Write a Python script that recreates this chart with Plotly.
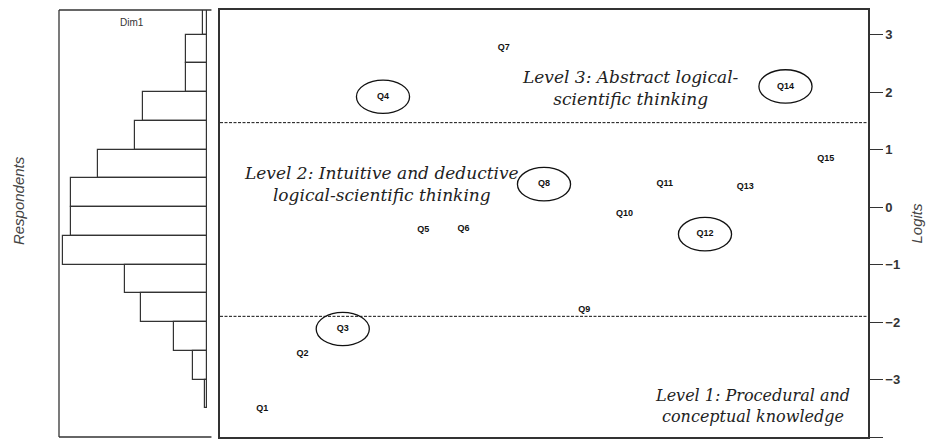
import plotly.graph_objects as go

# ---- data ----
items = ["Q1", "Q2", "Q3", "Q4", "Q5", "Q6", "Q7", "Q8", "Q9", "Q10",
         "Q11", "Q12", "Q13", "Q14", "Q15"]
item_pos = list(range(1, 16))
item_logits = [-3.50, -2.55, -2.12, 1.92, -0.40, -0.37, 2.77, 0.40, -1.79,
               -0.12, 0.41, -0.47, 0.36, 2.10, 0.85]
circled = ["Q3", "Q4", "Q8", "Q12", "Q14"]

bin_centers = [3.25, 2.75, 2.25, 1.75, 1.25, 0.75, 0.25, -0.25, -0.75,
               -1.25, -1.75, -2.25, -2.75, -3.25]
respondent_counts = [2, 10, 10, 31, 35, 53, 66, 66, 70, 40, 32, 16, 7, 1]

level_cuts = [1.47, -1.90]
level_labels = [
    ("Level 3: Abstract logical-<br>scientific thinking", 10.14, 2.08),
    ("Level 2: Intuitive and deductive<br>logical-scientific thinking", 3.97, 0.41),
    ("Level 1: Procedural and<br>conceptual knowledge", 13.17, -3.46),
]
y_ticks = [3, 2, 1, 0, -1, -2, -3, -4]

# page has an 8px body margin; figure is placed at (8, 8)
OFF = 8
PW, PH = 938, 441
W, H = PW - OFF, PH - OFF
LINE = "#333333"
LABEL_SIZES = [17, 17, 16]


def fx(px):
    return (px - OFF) / W


def fy(py):
    return 1 - (py - OFF) / H


fig = go.Figure()

# histogram of respondents
fig.add_trace(go.Bar(
    x=respondent_counts, y=bin_centers, orientation="h", width=0.5,
    marker=dict(color="white", line=dict(color=LINE, width=1.2)),
    xaxis="x", yaxis="y", showlegend=False, hoverinfo="skip"))

# items
fig.add_trace(go.Scatter(
    x=item_pos, y=item_logits, mode="text", text=items,
    textfont=dict(family="Liberation Sans, Arial", size=9, color="#111111",
                  weight="bold"),
    textposition="middle center",
    xaxis="x2", yaxis="y2", showlegend=False))

shapes = []
for name, xv, yv in zip(items, item_pos, item_logits):
    if name in circled:
        shapes.append(dict(type="circle", xref="x2", yref="y2",
                           x0=xv - 0.66, x1=xv + 0.66, y0=yv - 0.29, y1=yv + 0.29,
                           line=dict(color="#111111", width=1.3)))
for c in level_cuts:
    shapes.append(dict(type="line", xref="x2 domain", yref="y2",
                       x0=0, x1=1, y0=c, y1=c,
                       line=dict(color="#111111", width=1, dash="3px,1.5px")))
# left panel box (left, top, bottom)
shapes.append(dict(type="line", xref="x domain", yref="y domain", x0=0, x1=0, y0=0, y1=1,
                   line=dict(color=LINE, width=1.3)))
shapes.append(dict(type="line", xref="x domain", yref="y domain", x0=0, x1=1.03, y0=1, y1=1,
                   line=dict(color=LINE, width=1.3)))
shapes.append(dict(type="line", xref="x domain", yref="y domain", x0=0, x1=1.03, y0=0, y1=0,
                   line=dict(color=LINE, width=1.3)))

annotations = []
for (txt, xv, yv), sz in zip(level_labels, LABEL_SIZES):
    annotations.append(dict(text=txt, x=xv, y=yv, xref="x2", yref="y2",
                            showarrow=False, align="center",
                            xanchor="center", yanchor="middle",
                            font=dict(family="DejaVu Serif", size=sz, color="#222222",
                                      style="italic")))
annotations.append(dict(text="Dim1", x=fx(132), y=fy(21), xref="paper", yref="paper",
                        showarrow=False, xanchor="center", yanchor="middle",
                        font=dict(family="Liberation Sans, Arial", size=10,
                                  color="#333333")))
annotations.append(dict(text="Respondents", x=fx(18), y=fy(200), xref="paper",
                        yref="paper", showarrow=False, textangle=-90,
                        xanchor="center", yanchor="middle",
                        font=dict(family="Liberation Sans, Arial", size=15, color="#444444",
                                  style="italic")))

YR = [-4, 3.43]
ydom = [fy(437), fy(8)]

fig.update_layout(
    width=W, height=H, margin=dict(l=0, r=0, t=0, b=0),
    paper_bgcolor="white", plot_bgcolor="white",
    shapes=shapes, annotations=annotations, bargap=0,
    xaxis=dict(domain=[fx(59), fx(207)], range=[72, 0], showgrid=False,
               zeroline=False, showticklabels=False, ticks="", showline=False),
    yaxis=dict(domain=ydom, range=YR, showgrid=False, zeroline=False,
               showticklabels=False, ticks="", showline=False, anchor="x"),
    xaxis2=dict(domain=[fx(220), fx(868)], range=[-0.05, 16.05], showgrid=False,
                zeroline=False, showticklabels=False, ticks="", showline=True,
                linecolor=LINE, linewidth=1.5, mirror=True, anchor="y2"),
    yaxis2=dict(domain=ydom, range=YR, side="right", anchor="x2", showgrid=False,
                zeroline=False, tickvals=y_ticks, ticks="outside", ticklen=13,
                tickcolor=LINE, tickwidth=1.3, showline=True, linecolor=LINE,
                linewidth=1.5, mirror=True,
                tickfont=dict(family="Liberation Sans, Arial", size=13, color="#333333",
                              weight="bold"),
                title=dict(text="Logits", standoff=12,
                           font=dict(family="Liberation Sans, Arial", size=15,
                                     color="#444444", style="italic"))),
)

fig.write_html("out.html")
